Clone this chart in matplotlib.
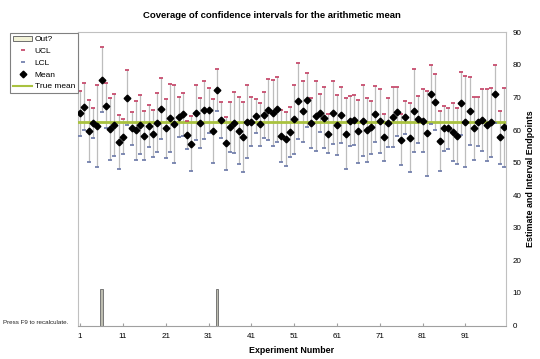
import numpy as np
import matplotlib
matplotlib.use("Agg")
import matplotlib.pyplot as plt
from matplotlib.patches import Patch
from matplotlib.lines import Line2D

plt.rcParams['font.family'] = ['Liberation Sans', 'DejaVu Sans']

# data
experiments = np.arange(1, 101)
mean = [65.1, 67.2, 59.7, 62.2, 61.3, 75.4, 67.5, 60.2, 61.5, 56.4,
        58.0, 69.9, 60.5, 59.9, 61.6, 58.2, 61.2, 58.9, 62.3, 66.6,
        60.5, 63.8, 61.9, 63.9, 64.9, 58.5, 55.8, 65.3, 62.1, 66.2,
        66.1, 59.8, 72.3, 63.2, 55.9, 61.0, 62.3, 59.8, 57.9, 62.5,
        62.6, 64.4, 61.8, 64.6, 66.2, 65.3, 66.4, 58.2, 57.2, 59.4,
        63.3, 69.0, 65.8, 69.2, 62.1, 64.3, 65.2, 63.8, 58.9, 65.3,
        61.6, 64.6, 58.9, 62.8, 63.1, 59.6, 62.8, 60.0, 60.8, 64.9,
        62.8, 57.8, 62.3, 63.9, 65.6, 57.0, 63.9, 57.7, 65.9, 63.3,
        62.9, 59.0, 71.0, 68.6, 56.7, 60.5, 60.5, 59.4, 58.3, 68.2,
        62.6, 65.9, 60.5, 62.6, 63.1, 61.6, 62.4, 71.1, 57.8, 60.8]
ucl = [72.0, 74.5, 69.1, 66.8, 73.8, 85.4, 74.5, 69.7, 71.1, 64.7,
       63.4, 78.3, 65.5, 68.9, 70.7, 65.7, 67.7, 66.0, 71.4, 76.1,
       69.5, 74.2, 73.8, 70.0, 71.5, 62.9, 64.3, 73.8, 69.7, 75.2,
       73.0, 69.6, 78.8, 68.7, 64.1, 68.7, 71.6, 70.1, 68.6, 73.7,
       70.0, 69.6, 68.4, 71.6, 75.6, 75.5, 76.4, 66.2, 65.4, 67.2,
       73.9, 80.7, 75.2, 77.4, 69.7, 75.0, 71.0, 73.2, 64.9, 74.9,
       70.9, 73.2, 69.7, 70.5, 70.7, 69.3, 73.7, 69.7, 68.9, 73.5,
       72.7, 65.0, 69.8, 73.1, 73.1, 64.8, 68.9, 68.2, 78.6, 70.5,
       72.6, 72.1, 80.0, 77.1, 65.9, 67.4, 66.9, 68.4, 66.9, 77.8,
       76.7, 76.3, 70.1, 70.2, 72.6, 72.7, 73.0, 80.1, 65.9, 72.8]
lcl = [58.2, 59.9, 50.3, 57.6, 48.8, 65.4, 60.5, 50.7, 51.9, 48.1,
       52.6, 61.5, 55.5, 50.9, 52.5, 50.7, 54.7, 51.8, 53.2, 57.1,
       51.5, 53.4, 50.0, 57.8, 58.3, 54.1, 47.3, 56.8, 54.5, 57.2,
       59.2, 50.0, 65.8, 57.7, 47.7, 53.3, 53.0, 49.5, 47.2, 51.3,
       55.2, 59.2, 55.2, 57.6, 56.8, 55.1, 56.4, 50.2, 49.0, 51.6,
       52.7, 57.3, 56.4, 61.0, 54.5, 53.6, 59.4, 54.4, 52.9, 55.7,
       52.3, 56.0, 48.1, 55.1, 55.5, 49.9, 51.9, 50.3, 52.7, 56.3,
       52.9, 50.6, 54.8, 54.7, 58.1, 49.2, 58.9, 47.2, 53.2, 56.1,
       53.2, 45.9, 62.0, 60.1, 47.5, 53.6, 54.1, 50.4, 49.7, 58.6,
       48.5, 55.5, 50.9, 55.0, 53.6, 50.5, 51.8, 62.1, 49.7, 48.8]
true_mean = 62.5
out_experiments = [6, 33]
out_heights = [11.2, 11.2]
x_tick_labels = [1, 11, 21, 31, 41, 51, 61, 71, 81, 91]

fig = plt.figure(figsize=(5.4, 3.59), dpi=100)
ax = fig.add_axes([78 / 540, 1 - 325.5 / 359, 428 / 540, 293.2 / 359])

ax.bar(out_experiments, out_heights, width=0.5, color='#BDBDB0',
       edgecolor='#777777', linewidth=0.7, zorder=2)
ax.vlines(experiments, lcl, ucl, colors='#BDBDBD', linewidth=0.9, zorder=2)
ax.axhline(true_mean, color='#A9C23F', linewidth=2.0, zorder=3)
ax.plot(experiments, ucl, linestyle='none', marker='_', markersize=3.2,
        markeredgewidth=1.2, color='#C23E62', zorder=4)
ax.plot(experiments, lcl, linestyle='none', marker='_', markersize=3.2,
        markeredgewidth=1.2, color='#6A78A8', zorder=4)
ax.plot(experiments, mean, linestyle='none', marker='D', markersize=3.4,
        color='black', zorder=5)

ax.set_xlim(0.5, 100.5)
ax.set_ylim(0, 90)
ax.set_xticks(x_tick_labels)
ax.set_xticklabels([str(v) for v in x_tick_labels])
ax.set_yticks(np.arange(0, 91, 10))
ax.yaxis.tick_right()
ax.yaxis.set_label_position('right')
ax.tick_params(axis='x', direction='in', length=2, color='#A0A0A0',
               labelsize=5.8, pad=5.5)
ax.tick_params(axis='y', length=0, labelsize=5.8, pad=4.8)
for s in ax.spines.values():
    s.set_color('#C0C0C0')
    s.set_linewidth(0.8)
ax.spines['bottom'].set_color('#A0A0A0')

ax.set_xlabel('Experiment Number', fontsize=6.4, fontweight='bold', labelpad=4)
ax.set_ylabel('Estimate and Interval Endpoints', fontsize=6.4,
              fontweight='bold', labelpad=3)

fig.text(0.503, 1 - 15 / 359, 'Coverage of confidence intervals for the arithmetic mean',
         fontsize=6.8, fontweight='bold', ha='center', va='center')
fig.text(3 / 540, 1 - 323 / 359, 'Press F9 to recalculate.', fontsize=4.5,
         ha='left', va='center', color='#222222')

handles = [
    Patch(facecolor='#F2F2D8', edgecolor='#6E6E6E', linewidth=0.7),
    Line2D([], [], linestyle='none', marker='_', markersize=3.2,
           markeredgewidth=1.2, color='#C23E62'),
    Line2D([], [], linestyle='none', marker='_', markersize=3.2,
           markeredgewidth=1.2, color='#6A78A8'),
    Line2D([], [], linestyle='none', marker='D', markersize=3.4, color='black'),
    Line2D([], [], color='#A9C23F', linewidth=1.5),
]
labels = ['Out?', 'UCL', 'LCL', 'Mean', 'True mean']
leg = fig.legend(handles, labels, loc='upper left',
                 bbox_to_anchor=(10 / 540, 1 - 33 / 359), borderaxespad=0,
                 fontsize=6, frameon=True, fancybox=False, framealpha=1,
                 edgecolor='#808080', handlelength=2.3, handleheight=0.6,
                 handletextpad=0.3, labelspacing=0.5, borderpad=0.35)
leg.get_frame().set_linewidth(0.8)

fig.savefig('out.png', dpi=100)
